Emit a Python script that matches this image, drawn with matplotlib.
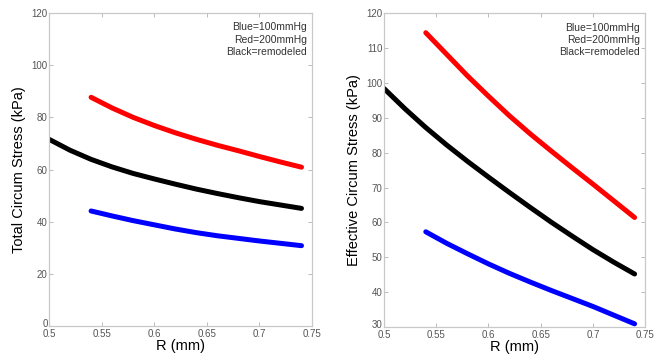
import matplotlib
matplotlib.use("Agg")
import matplotlib.pyplot as plt
from matplotlib.transforms import ScaledTranslation

plt.rcParams["font.family"] = ["Liberation Sans", "DejaVu Sans"]

# radius samples (mm)
r_full = [0.50, 0.52, 0.54, 0.56, 0.58, 0.60, 0.62, 0.64, 0.66, 0.68, 0.70, 0.72, 0.74]
r_part = [0.54, 0.56, 0.58, 0.60, 0.62, 0.64, 0.66, 0.68, 0.70, 0.72, 0.74]

# total circumferential stress (kPa)
total_red = [87.7, 83.6, 80.0, 76.9, 74.1, 71.6, 69.3, 67.2, 65.0, 62.9, 60.9]
total_black = [71.6, 67.4, 63.9, 61.0, 58.5, 56.4, 54.4, 52.5, 50.8, 49.2, 47.7, 46.4, 45.1]
total_blue = [44.1, 42.2, 40.4, 38.8, 37.2, 35.8, 34.6, 33.6, 32.6, 31.7, 30.8]

# effective circumferential stress (kPa)
eff_red = [114.4, 108.2, 102.0, 96.2, 90.6, 85.4, 80.5, 75.7, 71.0, 66.2, 61.4]
eff_black = [98.4, 92.6, 87.2, 82.2, 77.5, 73.0, 68.6, 64.3, 60.1, 56.1, 52.2, 48.6, 45.2]
eff_blue = [57.3, 54.0, 51.0, 48.1, 45.4, 42.9, 40.5, 38.2, 35.9, 33.4, 30.9]

x_ticks = [0.5, 0.55, 0.6, 0.65, 0.7, 0.75]
x_ticklabels = ["0.5", "0.55", "0.6", "0.65", "0.7", "0.75"]
legend_text = "Blue=100mmHg\nRed=200mmHg\nBlack=remodeled"

fig = plt.figure(figsize=(6.63, 3.56), dpi=100)
ax1 = fig.add_axes([0.0739, 0.0843, 0.3967, 0.879])
ax2 = fig.add_axes([0.5792, 0.0815, 0.3937, 0.8815])


def style(ax, yticks, ylim, ylabel):
    ax.set_xlim(0.5, 0.75)
    ax.set_ylim(*ylim)
    ax.set_xticks(x_ticks)
    ax.set_xticklabels(x_ticklabels)
    ax.set_yticks(yticks)
    ax.tick_params(direction="in", length=3, width=0.6, colors="#b0b0b0",
                   labelcolor="#555555", labelsize=7, pad=1,
                   top=True, right=True)
    ax.tick_params(axis="x", pad=2.5)
    # lift the lowest y label a little, as in the original
    lowest = ax.get_yticklabels()[0]
    lowest.set_transform(lowest.get_transform() +
                         ScaledTranslation(0, 2.5 / 72, fig.dpi_scale_trans))
    for s in ax.spines.values():
        s.set_color("#c8c8c8")
        s.set_linewidth(0.9)
    ax.set_xlabel("R (mm)", fontsize=10.5, labelpad=0)
    ax.set_ylabel(ylabel, fontsize=10.5, labelpad=4)
    ax.text(0.98, 0.97, legend_text, transform=ax.transAxes, ha="right",
            va="top", fontsize=7.5, color="#333333", linespacing=1.3)


lw = 3.6
kw = dict(lw=lw, solid_capstyle="round", solid_joinstyle="round")
ax1.plot(r_part, total_red, color="#ff0000", **kw)
ax1.plot(r_full, total_black, color="#000000", **kw)
ax1.plot(r_part, total_blue, color="#0000ff", **kw)
style(ax1, range(0, 121, 20), (0, 120), "Total Circum Stress (kPa)")

ax2.plot(r_part, eff_red, color="#ff0000", **kw)
ax2.plot(r_full, eff_black, color="#000000", **kw)
ax2.plot(r_part, eff_blue, color="#0000ff", **kw)
style(ax2, range(30, 121, 10), (30, 120), "Effective Circum Stress (kPa)")

fig.savefig("out.png", dpi=100)
plt.close(fig)
